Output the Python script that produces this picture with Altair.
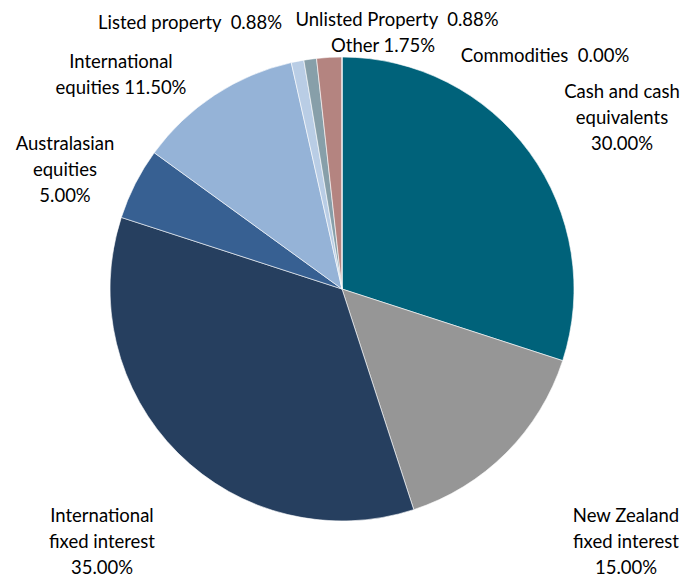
import altair as alt
import pandas as pd

categories = ["Cash and cash equivalents", "New Zealand fixed interest", "International fixed interest",
              "Australasian equities", "International equities", "Listed property",
              "Unlisted Property", "Other", "Commodities"]
values = [30.00, 15.00, 35.00, 5.00, 11.50, 0.88, 0.88, 1.75, 0.00]
colors = ["#00627A", "#969696", "#263F5F", "#376092", "#95B3D7", "#B9CDE5", "#879FA9", "#B48480", "#7F7F7F"]

label_texts = ["Cash and cash\nequivalents\n30.00%", "New Zealand\nfixed interest\n15.00%",
               "International\nfixed interest\n35.00%", "Australasian\nequities\n5.00%",
               "International\nequities 11.50%", "Listed property\u00a0\u00a00.88%",
               "Unlisted Property\u00a0\u00a00.88%", "Other 1.75%", "Commodities\u00a0\u00a00.00%"]
label_x = [622, 626, 102, 65, 121, 190, 397, 383, 545]
label_y = [92, 516, 516, 144, 62, 23, 20, 46, 56]

df = pd.DataFrame({"category": categories, "value": values, "order": list(range(len(categories)))})
labels = pd.DataFrame({"text": label_texts, "x": label_x, "y": label_y})

W, H = 684, 578

pie = alt.Chart(df).mark_arc(outerRadius=232, stroke="white", strokeWidth=0.6).encode(
    theta=alt.Theta("value:Q", stack=True),
    order=alt.Order("order:Q"),
    color=alt.Color("category:N", scale=alt.Scale(domain=categories, range=colors), legend=None),
)

text = alt.Chart(labels).mark_text(font="Lato", fontSize=18.5, lineBreak="\n", lineHeight=26,
                                   align="center", baseline="middle", color="#000000").encode(
    x=alt.X("x:Q", scale=None),
    y=alt.Y("y:Q", scale=None),
    text="text:N",
)

chart = alt.layer(pie, text).properties(
    width=W, height=H, autosize=alt.AutoSizeParams(type="none"), padding=0
).configure_view(stroke=None)

chart.save("out.html", embed_options={"renderer": "svg", "actions": False})
